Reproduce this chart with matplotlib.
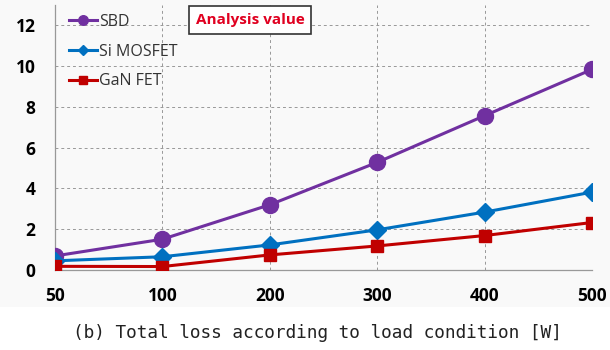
import matplotlib.pyplot as plt
from matplotlib.patches import Rectangle

loads = ['50', '100', '200', '300', '400', '500']
sbd = [0.69, 1.51, 3.2, 5.28, 7.57, 9.84]
si_mosfet = [0.45, 0.65, 1.23, 1.97, 2.84, 3.82]
gan_fet = [0.18, 0.17, 0.74, 1.18, 1.69, 2.33]

fig = plt.figure(figsize=(6.1, 3.5), dpi=100)
fig.patches.append(Rectangle((0, 1 - 307 / 350), 1, 307 / 350, transform=fig.transFigure,
                             facecolor='#f9f9f9', edgecolor='none', zorder=-10))
ax = fig.add_axes([55 / 610, 1 - 270 / 350, 537 / 610, 265 / 350])
ax.set_facecolor('none')

x = list(range(len(loads)))
ax.plot(x, sbd, color='#7030a0', lw=2.2, marker='o', ms=11.5, label='SBD', zorder=3)
ax.plot(x, si_mosfet, color='#0070c0', lw=2.2, marker='D', ms=9, label='Si MOSFET', zorder=4)
ax.plot(x, gan_fet, color='#c00000', lw=2.2, marker='s', ms=8.5, label='GaN FET', zorder=5)

ax.set_xlim(0, 5)
ax.set_ylim(0, 13)
ax.set_xticks(x)
ax.set_xticklabels(loads)
ax.set_yticks(range(0, 13, 2))
ax.grid(True, color='#999999', ls=(0, (3, 3)), lw=0.7)
ax.tick_params(length=0, labelsize=12.5)
ax.tick_params(axis='x', pad=12)
ax.tick_params(axis='y', pad=14)
for lab in ax.get_xticklabels() + ax.get_yticklabels():
    lab.set_fontweight('bold')
    lab.set_family('Open Sans')
for side in ['top', 'right']:
    ax.spines[side].set_visible(False)
for side in ['left', 'bottom']:
    ax.spines[side].set_color('#999999')
    ax.spines[side].set_linewidth(0.9)

leg = ax.legend(loc='upper left', bbox_to_anchor=(0.0, 1.02), frameon=False,
                markerscale=0.6, handlelength=1.7, handletextpad=0.15,
                labelspacing=0.85, prop={'family': 'Open Sans', 'size': 11.5})
for t in leg.get_texts():
    t.set_color('#333333')

ax.text(250 / 610, 1 - 20 / 350, 'Analysis value', transform=fig.transFigure,
        ha='center', va='center', color='#e00020', fontsize=11, fontweight='bold',
        family='Open Sans', zorder=10,
        bbox=dict(boxstyle='square,pad=0.45', facecolor='white', edgecolor='#333333', lw=1.2))

fig.text(0.52, 1 - 333 / 350, '(b) Total loss according to load condition [W]',
         ha='center', va='center', fontsize=12.8, family='DejaVu Sans Mono', color='#222222')

fig.savefig('out.png', dpi=100)
